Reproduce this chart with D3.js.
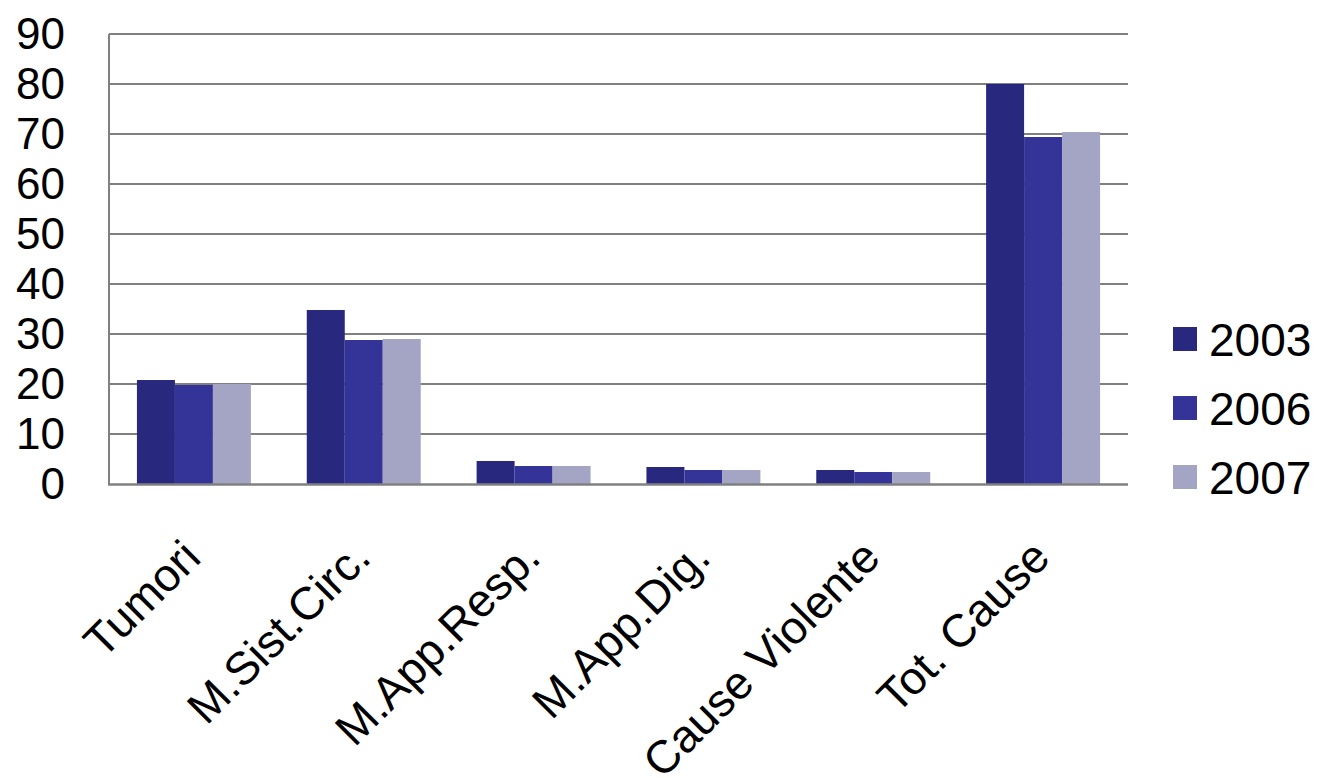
<!DOCTYPE html>
<html>
<head>
<meta charset="utf-8">
<script src="https://cdn.jsdelivr.net/npm/d3@7"></script>
<style>
  html, body { margin: 0; padding: 0; background: #fff; }
  svg { display: block; }
  text { font-family: "Liberation Sans", Arial, sans-serif; fill: #000; }
</style>
</head>
<body>
<svg id="chart" width="1321" height="778"></svg>
<script>
const categories = ["Tumori", "M.Sist.Circ.", "M.App.Resp.", "M.App.Dig.", "Cause Violente", "Tot. Cause"];
const seriesNames = ["2003", "2006", "2007"];
const values2003 = [20.8, 34.8, 4.6, 3.4, 2.8, 80.0];
const values2006 = [19.8, 28.8, 3.6, 2.8, 2.4, 69.4];
const values2007 = [20.0, 29.0, 3.6, 2.8, 2.4, 70.4];
const yTicks = [0, 10, 20, 30, 40, 50, 60, 70, 80, 90];
const colors = ["#28287E", "#343498", "#A4A4C4"];

const seriesValues = [values2003, values2006, values2007];
const svg = d3.select("#chart");

const plotLeft = 109, plotRight = 1128, plotTop = 34, plotBottom = 484;

const x0 = d3.scaleBand().domain(categories).range([plotLeft, plotRight])
  .paddingInner(0.329).paddingOuter(0.1645);
const x1 = d3.scaleBand().domain(seriesNames).range([0, x0.bandwidth()]);
const y = d3.scaleLinear().domain([0, 90]).range([plotBottom, plotTop]);

// gridlines
svg.append("g").selectAll("line").data(yTicks.filter(d => d > 0)).join("line")
  .attr("x1", plotLeft).attr("x2", plotRight)
  .attr("y1", d => y(d)).attr("y2", d => y(d))
  .attr("stroke", "#808080").attr("stroke-width", 2);

// bars
const groups = svg.append("g").selectAll("g").data(categories).join("g")
  .attr("transform", d => `translate(${x0(d)},0)`);
groups.selectAll("rect")
  .data((c, i) => seriesNames.map((s, j) => ({ s, v: seriesValues[j][i], j })))
  .join("rect")
  .attr("x", d => x1(d.s))
  .attr("width", x1.bandwidth())
  .attr("y", d => y(d.v))
  .attr("height", d => y(0) - y(d.v))
  .attr("fill", d => colors[d.j]);

// axes lines
svg.append("line").attr("x1", plotLeft).attr("x2", plotLeft).attr("y1", plotTop).attr("y2", plotBottom + 1)
  .attr("stroke", "#808080").attr("stroke-width", 2);
svg.append("line").attr("x1", plotLeft - 1).attr("x2", plotRight).attr("y1", plotBottom + 0.5).attr("y2", plotBottom + 0.5)
  .attr("stroke", "#808080").attr("stroke-width", 2.5);

// y tick labels
const yAxis = d3.axisLeft(y).tickValues(yTicks).tickSize(0).tickPadding(44);
const ya = svg.append("g").attr("transform", `translate(${plotLeft},0)`).call(yAxis);
ya.select(".domain").remove();
ya.selectAll("text").style("font-size", "44px")
  .style("font-family", '"Liberation Sans", Arial, sans-serif').attr("fill", "#000");

// x category labels
svg.append("g").selectAll("text").data(categories).join("text")
  .attr("transform", d => `translate(${x0(d) + x0.bandwidth() / 2 + 9},560) rotate(-45)`)
  .attr("text-anchor", "end")
  .style("font-size", "46px")
  .text(d => d);

// legend
const legend = svg.append("g").selectAll("g").data(seriesNames).join("g")
  .attr("transform", (d, i) => `translate(1173,${339 + i * 69})`);
legend.append("rect").attr("x", 0).attr("y", -12).attr("width", 24).attr("height", 24)
  .attr("fill", (d, i) => colors[i]);
legend.append("text").attr("x", 36).attr("y", 0).attr("dy", "0.36em")
  .style("font-size", "46px").text(d => d);
</script>
</body>
</html>
